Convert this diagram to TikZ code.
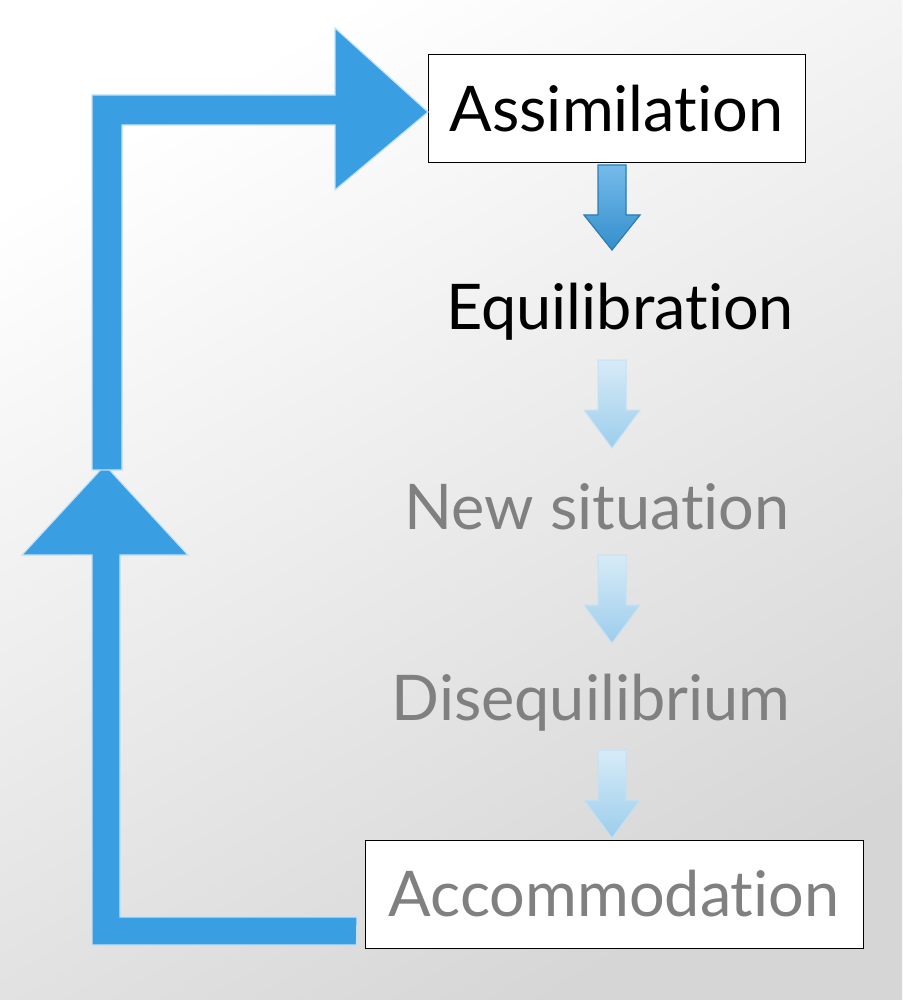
\documentclass[tikz,border=0pt]{standalone}
\usepackage{fontspec}
\setmainfont[Ligatures=NoCommon]{Lato}
\begin{document}
\begin{tikzpicture}[x=1pt,y=-1pt,
  blu/.style={fill=arrowblue,draw=white!70!arrowblue,line width=1.2pt},
  lite/.style={top color=white!60!lightblue,bottom color=lightblue,draw=white!40!lightblue,line width=1pt},
  boxed/.style={draw=black,fill=white,line width=1pt,inner sep=0pt},
  lbl/.style={font=\fontsize{63}{63}\selectfont}]
\definecolor{arrowblue}{HTML}{3A9EE2}
\definecolor{lightblue}{HTML}{9CCDEC}
\definecolor{txtgray}{HTML}{808080}
\shade[top color=white,bottom color=black!16,shading angle=30] (0,0) rectangle (902,1000);
\useasboundingbox (0,0) rectangle (902,1000);
% nodes
\node[boxed,minimum width=377pt,minimum height=108pt,lbl] (assim) at (616.5,109) {Assimilation};
\node[lbl] (equi) at (620,312) {Equilibration};
\node[lbl,text=txtgray] (news) at (597,507) {New situation};
\node[lbl,text=txtgray] (dise) at (591,703) {Disequilibrium};
\node[boxed,minimum width=498pt,minimum height=108pt,lbl,text=txtgray] (accom) at (614,894) {Accommodation};
% small arrows
\path[blu,draw=arrowblue!80!black,top color=arrowblue!70!white,bottom color=arrowblue!90!black] (598,165)--(626,165)--(626,215)--(640,215)--(612,250)--(584,215)--(598,215)--cycle;
\foreach \y in {360,555,750}{
  \path[lite] (598,\y)--(626,\y)--(626,\y+50)--(640,\y+50)--(612,\y+88)--(584,\y+50)--(598,\y+50)--cycle;}
% big connector: lower part
\path[blu] (accom.west) ++(-8,51) -- (92,945) -- (92,555) -- (22,555) -- (105,465) -- (188,555) -- (120,555) -- (120,917) -- (357,917) -- cycle;
% upper part
\path[blu] (92,470) -- (92,95) -- (335,95) -- (335,28) -- (428,112) -- (335,190) -- (335,125) -- (122,125) -- (122,470) -- cycle;
\end{tikzpicture}
\end{document}
